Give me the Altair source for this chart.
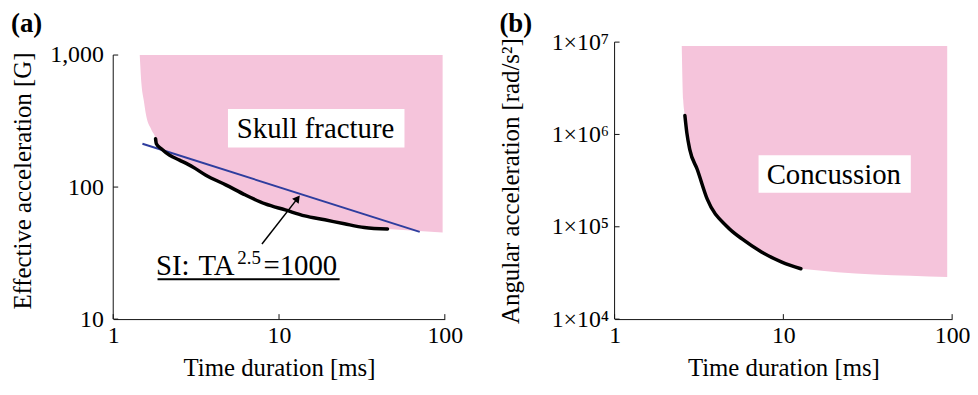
import altair as alt
import pandas as pd

FONT = "Liberation Serif"
PINK = "#F5C4DB"
BLUE = "#2E3D9E"

# ---------------- Panel (a): skull fracture ----------------
a_x_ticks = [1, 10, 100]
a_x_tick_labels = ["1", "10", "100"]
a_y_ticks = [10, 100, 1000]
a_y_tick_labels = ["10", "100", "1,000"]
a_y_domain = [10, 1253]   # plot area extends a little above the 1,000 tick

a_curve_t = [1.80, 1.82, 1.95, 2.19, 2.51, 3.02, 3.62, 4.77, 6.28, 8.27, 10.9, 14.3, 18.9, 24.8, 32.7, 45.1]
a_curve_g = [232, 213, 195, 174, 160, 142, 123, 104, 87, 74.5, 67.1, 60.5, 56.5, 52.7, 49.4, 48.1]

a_edge_t = [1.445, 1.479, 1.527, 1.584, 1.698]
a_edge_g = [1000, 610, 457, 342, 272]
a_end_t = [97.0]
a_end_g = [45.3]
a_zone_top = 1000

si_t = [1.5, 70.6]
si_g = [213, 45.8]

skull_label = "Skull fracture"
skull_box_t = [4.92, 57.1]
skull_box_g = [199, 391]
skull_text_t = 16.6
skull_text_g = 235

si_parts = ["SI:", "TA", "2.5", "=1000"]
si_parts_t = [1.81, 3.27, 5.6, 8.05]
si_parts_g = [21.4, 21.4, 26.2, 21.4]
si_underline_t = [1.85, 23.2]
si_underline_g = 20
arrow_t = [7.89, 12.94]
arrow_g = [37.1, 82.1]

# ---------------- Panel (b): concussion ----------------
b_x_ticks = [1, 10, 100]
b_x_tick_labels = ["1", "10", "100"]
b_y_ticks = [1e4, 1e5, 1e6, 1e7]
b_y_tick_labels = ["1×10⁴", "1×10⁵", "1×10⁶", "1×10⁷"]
b_y_domain = [1e4, 1e7]

b_curve_t = [2.61, 2.68, 2.79, 3.09, 3.54, 4.65, 5.69, 7.46, 9.79, 12.7]
b_curve_r = [1.60e6, 1.04e6, 6.85e5, 4.17e5, 1.99e5, 1.0e5, 7.38e4, 5.31e4, 4.14e4, 3.51e4]
b_edge_t = [2.50, 2.55]
b_edge_r = [9.06e6, 2.36e6]
b_end_t = [93.5]
b_end_r = [2.86e4]
b_zone_top = 9.06e6

conc_label = "Concussion"
conc_box_t = [7.13, 56.9]
conc_box_r = [2.34e5, 5.94e5]
conc_text_t = 19.9
conc_text_r = 2.88e5


def label_expr(values, labels):
    vals = ",".join(repr(float(v)) for v in values)
    labs = ",".join("'" + s + "'" for s in labels)
    return f"[{labs}][indexof([{vals}], datum.value)]"


def make_panel(W, H, xdom, ydom, xticks, xlabels, yticks, ylabels, ytitle,
               ylabelpad, ytitlepad, zone_t, zone_v, zone_top, curve_t, curve_v,
               box_t, box_v, text_t, text_v, text_label, tag, tag_dx):
    X = alt.X("t:Q", scale=alt.Scale(type="log", domain=xdom, nice=False),
              axis=alt.Axis(values=xticks, labelExpr=label_expr(xticks, xlabels),
                            title="Time duration [ms]", ticks=False, tickSize=0,
                            grid=False, labelPadding=5, titlePadding=8,
                            labelFlush=False))
    Y = alt.Y("v:Q", scale=alt.Scale(type="log", domain=ydom, nice=False),
              axis=alt.Axis(values=yticks, labelExpr=label_expr(yticks, ylabels),
                            title=ytitle, ticks=False, tickSize=0, grid=False,
                            labelPadding=ylabelpad, titlePadding=ytitlepad,
                            labelFlush=False, domain=False))

    zone_df = pd.DataFrame({"t": zone_t, "v": zone_v, "top": [zone_top] * len(zone_t)})
    zone = alt.Chart(zone_df).mark_area(color=PINK, opacity=1, interpolate="monotone").encode(
        x=X, y=Y, y2="top:Q")

    box_df = pd.DataFrame({"t": [box_t[0]], "t2": [box_t[1]], "v": [box_v[0]], "v2": [box_v[1]]})
    box = alt.Chart(box_df).mark_rect(color="white", opacity=1).encode(
        x=X, x2="t2:Q", y=Y, y2="v2:Q")

    txt_df = pd.DataFrame({"t": [text_t], "v": [text_v], "s": [text_label]})
    txt = alt.Chart(txt_df).mark_text(font=FONT, fontSize=29, color="black",
                                      align="center", baseline="alphabetic").encode(
        x=X, y=Y, text="s:N")

    curve_df = pd.DataFrame({"t": curve_t, "v": curve_v})
    curve = alt.Chart(curve_df).mark_line(color="black", strokeWidth=3.5,
                                          interpolate="monotone", strokeCap="round").encode(x=X, y=Y)

    # left axis line, from the lowest to the highest tick
    yaxis_df = pd.DataFrame({"t": [xticks[0]], "v": [yticks[0]], "v2": [yticks[-1]]})
    yline = alt.Chart(yaxis_df).mark_rule(color="#111", strokeWidth=1).encode(x=X, y=Y, y2="v2:Q")

    # inward ticks
    ytick_df = pd.DataFrame({"v": yticks})
    yt = alt.Chart(ytick_df).mark_rule(color="#111", strokeWidth=1).encode(
        y=Y, x=alt.value(0), x2=alt.value(5))
    xtick_df = pd.DataFrame({"t": xticks})
    xt = alt.Chart(xtick_df).mark_rule(color="#111", strokeWidth=1).encode(
        x=X, y=alt.value(H), y2=alt.value(H - 5))

    tag_df = pd.DataFrame({"s": [tag]})
    tag_mark = alt.Chart(tag_df).mark_text(font=FONT, fontSize=27, fontWeight="bold", color="black",
                                           align="left", baseline="top").encode(
        text="s:N", x=alt.value(tag_dx), y=alt.value(-31.5))

    layers = [zone, box, txt, curve, yline, yt, xt, tag_mark]
    return layers, X, Y


# Panel (a)
A_W, A_H = 334, 279
a_layers, AX, AY = make_panel(
    A_W, A_H, [1, 100], a_y_domain, a_x_ticks, a_x_tick_labels, a_y_ticks, a_y_tick_labels,
    "Effective acceleration [G]", 10, 14,
    a_edge_t + a_curve_t + a_end_t, a_edge_g + a_curve_g + a_end_g, a_zone_top,
    a_curve_t, a_curve_g, skull_box_t, skull_box_g, skull_text_t, skull_text_g, skull_label,
    "(a)", -103)

si_df = pd.DataFrame({"t": si_t, "v": si_g})
si_line = alt.Chart(si_df).mark_line(color=BLUE, strokeWidth=2).encode(x=AX, y=AY)

arrow_df = pd.DataFrame({"t": arrow_t, "v": arrow_g})
arrow_line = alt.Chart(arrow_df).mark_line(color="black", strokeWidth=1.5).encode(x=AX, y=AY)
arrow_head = alt.Chart(arrow_df.iloc[[1]]).mark_point(
    shape="triangle-up", filled=True, color="black", size=70, angle=38, opacity=1).encode(x=AX, y=AY)

main_idx = [0, 1, 3]
si_main_df = pd.DataFrame({"t": [si_parts_t[i] for i in main_idx],
                           "v": [si_parts_g[i] for i in main_idx],
                           "s": [si_parts[i] for i in main_idx]})
si_main = alt.Chart(si_main_df).mark_text(font=FONT, fontSize=29, color="black",
                                          align="left", baseline="alphabetic").encode(
    x=AX, y=AY, text="s:N")
si_sup_df = pd.DataFrame({"t": [si_parts_t[2]], "v": [si_parts_g[2]], "s": [si_parts[2]]})
si_sup = alt.Chart(si_sup_df).mark_text(font=FONT, fontSize=19, color="black",
                                        align="left", baseline="alphabetic").encode(
    x=AX, y=AY, text="s:N")
ul_df = pd.DataFrame({"t": [si_underline_t[0]], "t2": [si_underline_t[1]], "v": [si_underline_g]})
underline = alt.Chart(ul_df).mark_rule(color="black", strokeWidth=2).encode(x=AX, x2="t2:Q", y=AY)

z, bx, tx, cv, yl, yt, xt, tg = a_layers
panel_a = alt.layer(z, bx, tx, si_line, cv, arrow_line, arrow_head, si_main, si_sup, underline,
                    yl, yt, xt, tg).properties(width=A_W, height=A_H)

# Panel (b)
B_W, B_H = 340, 279
b_layers, BX, BY = make_panel(
    B_W, B_H, [1, 100], b_y_domain, b_x_ticks, b_x_tick_labels, b_y_ticks, b_y_tick_labels,
    "Angular acceleration [rad/s²]", 6, 28,
    b_edge_t + b_curve_t + b_end_t, b_edge_r + b_curve_r + b_end_r, b_zone_top,
    b_curve_t, b_curve_r, conc_box_t, conc_box_r, conc_text_t, conc_text_r, conc_label,
    "(b)", -116)
panel_b = alt.layer(*b_layers).properties(width=B_W, height=B_H)

chart = alt.hconcat(panel_a, panel_b, spacing=36).properties(
    padding={"left": 2, "top": 0, "right": 0, "bottom": 0}, background="white"
).configure_view(
    stroke=None
).configure_axis(
    domainColor="#111", domainWidth=1, labelFont=FONT, labelFontSize=24, labelColor="black",
    titleFont=FONT, titleFontSize=25, titleFontWeight="normal", titleColor="black"
)

chart.save("out.html", embed_options={"renderer": "svg", "actions": False})
